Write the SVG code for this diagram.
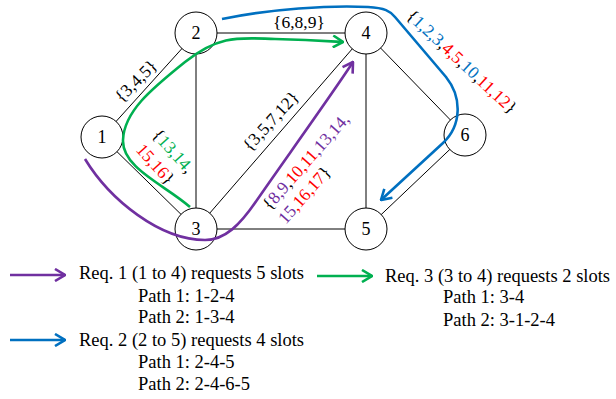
<svg xmlns="http://www.w3.org/2000/svg" width="616" height="399" viewBox="0 0 616 399">
<style>
.edge{stroke:#000;stroke-width:1;fill:none}
.node circle{fill:#fff;stroke:#000;stroke-width:1}
.node text{font-family:"Liberation Serif",serif;font-size:18px;text-anchor:middle;fill:#000}
.lbl{font-family:"Liberation Serif",serif;font-size:17.5px;fill:#000}
.leg{font-family:"Liberation Serif",serif;font-size:18.5px;fill:#000}
.req{fill:none;stroke-width:2.6}
.pu{stroke:#7030a0}.bl{stroke:#0070c0}.gr{stroke:#00b050}
.tpu{fill:#7030a0}.tbl{fill:#0070c0}.tgr{fill:#00b050}.tre{fill:#ff0000}
</style>
<defs>
<marker id="ap" markerUnits="userSpaceOnUse" viewBox="0 0 12 14" refX="11" refY="7" markerWidth="12" markerHeight="14" orient="auto"><path d="M1,1 L11,7 L1,13" fill="none" stroke="#7030a0" stroke-width="2.6"/></marker>
<marker id="ab" markerUnits="userSpaceOnUse" viewBox="0 0 12 14" refX="11" refY="7" markerWidth="12" markerHeight="14" orient="auto"><path d="M1,1 L11,7 L1,13" fill="none" stroke="#0070c0" stroke-width="2.6"/></marker>
<marker id="ag" markerUnits="userSpaceOnUse" viewBox="0 0 12 14" refX="11" refY="7" markerWidth="12" markerHeight="14" orient="auto"><path d="M1,1 L11,7 L1,13" fill="none" stroke="#00b050" stroke-width="2.6"/></marker>
</defs>
<g id="connectors">
<line class="edge" x1="102" y1="137" x2="196" y2="33"/>
<line class="edge" x1="102" y1="137" x2="196" y2="229"/>
<line class="edge" x1="196" y1="33" x2="196" y2="229"/>
<line class="edge" x1="196" y1="33" x2="366" y2="33"/>
<line class="edge" x1="196" y1="229" x2="366" y2="33"/>
<line class="edge" x1="196" y1="229" x2="366" y2="229"/>
<line class="edge" x1="366" y1="33" x2="366" y2="229"/>
<line class="edge" x1="366" y1="33" x2="465" y2="135"/>
<line class="edge" x1="465" y1="135" x2="366" y2="229"/>
</g>
<g id="node1" class="node"><circle cx="102" cy="137" r="21"/><text x="102" y="143">1</text></g>
<g id="node2" class="node"><circle cx="196" cy="33" r="21"/><text x="196" y="39">2</text></g>
<g id="node3" class="node"><circle cx="196" cy="229" r="21"/><text x="196" y="235">3</text></g>
<g id="node4" class="node"><circle cx="366" cy="33" r="21"/><text x="366" y="39">4</text></g>
<g id="node5" class="node"><circle cx="366" cy="229" r="21"/><text x="366" y="235">5</text></g>
<g id="node6" class="node"><circle cx="465" cy="135" r="21"/><text x="465" y="141">6</text></g>
<g id="requests">
<path class="req gr" marker-end="url(#ag)" d="M190,207 C165,185 122,168 123,140 S150,90 185,62 S240,38 275,39 S325,41 343,42"/>
<path class="req pu" marker-end="url(#ap)" d="M85,159 C110,200 160,240 205,240 C225,240 240,225 257,200 S335,90 353,62"/>
<path class="req bl" marker-end="url(#ab)" d="M222,19 C270,9 330,5 368,7 C385,8 390,11 395,17 L446,77 C462,97 462,125 443,143 L381,200"/>
</g>
<g id="edge-labels">
<text class="lbl" text-anchor="middle" x="299" y="28">{6,8,9}</text>
<text class="lbl" text-anchor="middle" transform="translate(140,85) rotate(-45)">{3,4,5}</text>
<text class="lbl" text-anchor="middle" transform="translate(275,125) rotate(-47.6)">{3,5,7,12}</text>
<text class="lbl" transform="translate(151.5,135.5) rotate(48)"><tspan x="0" y="0">{<tspan class="tgr">13,14</tspan>,</tspan><tspan x="0" y="22"><tspan class="tre">15,16</tspan>}</tspan></text>
<text class="lbl" transform="translate(270,211) rotate(-48.6)"><tspan x="0" y="0">{<tspan class="tpu">8,9</tspan>,<tspan class="tre">10,11</tspan><tspan class="tpu">,13,14,</tspan></tspan><tspan x="0" y="21"><tspan class="tpu">15</tspan><tspan class="tre">,16,17</tspan>}</tspan></text>
<text class="lbl" text-anchor="middle" transform="translate(458,66) rotate(43)">{<tspan class="tbl">1,2,3</tspan>,<tspan class="tre">4,5</tspan>,<tspan class="tbl">10</tspan>,<tspan class="tre">11,12</tspan>}</text>
</g>
<g id="legend">
<line class="req pu" x1="10" y1="275" x2="65" y2="275" marker-end="url(#ap)"/>
<line class="req bl" x1="10" y1="340" x2="65" y2="340" marker-end="url(#ab)"/>
<line class="req gr" x1="317" y1="276" x2="372" y2="276" marker-end="url(#ag)"/>
<text class="leg" x="79" y="279">Req. 1 (1 to 4) requests 5 slots</text>
<text class="leg" x="138" y="302">Path 1: 1-2-4</text>
<text class="leg" x="138" y="323">Path 2: 1-3-4</text>
<text class="leg" x="79" y="346">Req. 2 (2 to 5) requests 4 slots</text>
<text class="leg" x="138" y="368">Path 1: 2-4-5</text>
<text class="leg" x="138" y="390">Path 2: 2-4-6-5</text>
<text class="leg" x="385" y="282">Req. 3 (3 to 4) requests 2 slots</text>
<text class="leg" x="443" y="303">Path 1: 3-4</text>
<text class="leg" x="443" y="326">Path 2: 3-1-2-4</text>
</g>
</svg>
